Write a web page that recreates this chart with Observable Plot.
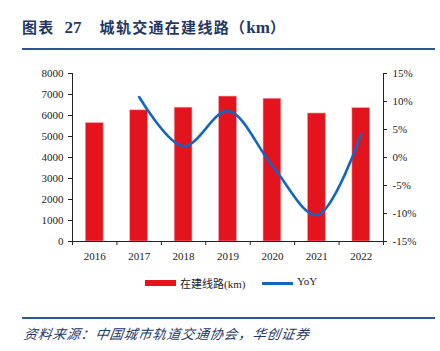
<!DOCTYPE html>
<html><head><meta charset="utf-8">
<script src="https://cdn.jsdelivr.net/npm/d3@7"></script>
<script src="https://cdn.jsdelivr.net/npm/@observablehq/plot@0.6"></script>
<style>
body{margin:0;background:#fff;}
#wrap{position:relative;width:440px;height:351px;overflow:hidden;background:#fff;}
#title{position:absolute;left:22px;top:17px;font-family:"Noto Sans CJK SC";font-weight:bold;font-size:15px;letter-spacing:1.3px;color:#1f3864;white-space:nowrap;line-height:20px;}
#title .num{font-family:"Liberation Serif";font-size:17px;letter-spacing:0;}
.rule{position:absolute;left:22px;width:413px;height:1.5px;background:#2b5797;}
#chart{position:absolute;left:0;top:60px;}
#legend{position:absolute;top:275px;left:0;width:440px;font-family:"Liberation Serif","Noto Sans CJK SC";font-size:11px;color:#222;}
.sw{position:absolute;}
#caption{position:absolute;left:24px;top:323px;font-family:"Noto Sans CJK SC";font-style:italic;font-size:13.5px;letter-spacing:0.8px;color:#1f3864;transform:skewX(-8deg);white-space:nowrap;}
</style></head>
<body><div id="wrap">
<div id="title">图表<span class="num" style="margin-left:10px">27</span><span style="margin-left:18px">城轨交通在建线路（<span class="num">km</span>）</span></div>
<div class="rule" style="top:48px"></div>
<div id="chart"></div>
<div id="legend">
  <div class="sw" style="left:145px;top:5px;width:31px;height:6px;background:#e3141d"></div>
  <div class="sw" style="left:180px;top:0px;">在建线路(km)</div>
  <div class="sw" style="left:262px;top:7px;width:31px;height:2.5px;background:#1565c0"></div>
  <div class="sw" style="left:297px;top:0px;">YoY</div>
</div>
<div class="rule" style="top:317px"></div>
<div id="caption">资料来源：中国城市轨道交通协会，华创证券</div>
</div>
<script>
const years = ["2016","2017","2018","2019","2020","2021","2022"];
const lengthKm = [5637, 6246, 6374, 6902, 6797, 6096, 6350];
const yoyYears = ["2017","2018","2019","2020","2021","2022"];
const yoyPct = [10.8, 2.0, 8.3, -1.5, -10.3, 4.2];
const leftTicks = [0,1000,2000,3000,4000,5000,6000,7000,8000];
const rightTicks = [-15,-10,-5,0,5,10,15];

const toLeft = p => (p + 15) / 30 * 8000;
const fromLeft = v => v / 8000 * 30 - 15;

const bars = years.map((y,i)=>({i, year:y, v:lengthKm[i]}));
const line = yoyYears.map((y,k)=>({i: years.indexOf(y), v: toLeft(yoyPct[k])}));
const boundaries = d3.range(years.length + 1).map(i => i - 0.5);

const plot = Plot.plot({
  width: 440, height: 210,
  marginLeft: 72, marginRight: 57, marginTop: 13, marginBottom: 29,
  style: {fontFamily: "Liberation Serif", fontSize: "11px", color: "#222", background: "transparent"},
  x: {type: "linear", domain: [-0.5, years.length - 0.5]},
  y: {domain: [0, 8000]},
  marks: [
    Plot.rectY(bars, {x1: d => d.i - 0.2, x2: d => d.i + 0.2, y: "v", fill: "#e3141d", stroke: "#f4a0a3", strokeWidth: 0.6}),
    Plot.line(line, {x: "i", y: "v", stroke: "#1565c0", strokeWidth: 2.6, curve: "catmull-rom"}),
    Plot.ruleX([-0.5, years.length - 0.5], {stroke: "#222", strokeWidth: 1}),
    Plot.ruleY([0], {stroke: "#222", strokeWidth: 1}),
    Plot.axisY({ticks: leftTicks, tickSize: 4, tickPadding: 5, label: null, anchor: "left", tickFormat: d => String(d)}),
    Plot.axisY({ticks: rightTicks.map(toLeft), tickSize: 3, tickPadding: 6, label: null, anchor: "right", tickFormat: d => Math.round(fromLeft(d)) + "%"}),
    Plot.axisX({ticks: boundaries, tickSize: 4, tickFormat: () => "", label: null}),
    Plot.axisX({ticks: d3.range(years.length), tickSize: 0, tickPadding: 11, tickFormat: i => years[i], label: null})
  ]
});
document.getElementById("chart").appendChild(plot);
</script>
</body></html>
